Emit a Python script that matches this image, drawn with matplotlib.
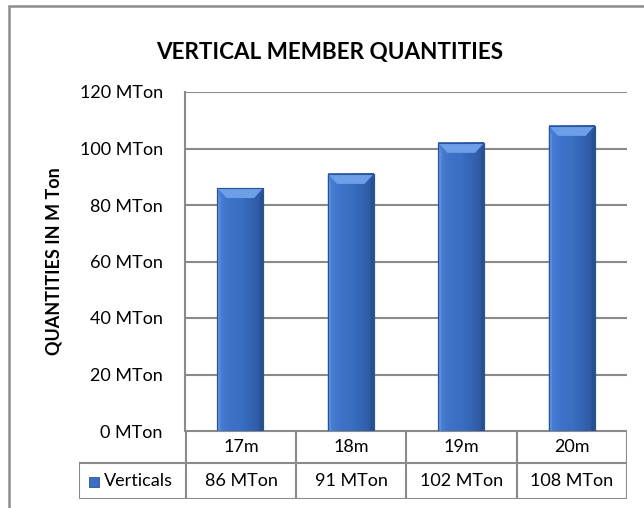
import matplotlib
matplotlib.use("Agg")
import matplotlib.pyplot as plt
import numpy as np
from matplotlib.colors import LinearSegmentedColormap
from matplotlib.patches import Polygon, Rectangle

plt.rcParams['font.family'] = ['Lato', 'DejaVu Sans']

categories = ['17m', '18m', '19m', '20m']
verticals = [86, 91, 102, 108]
value_labels = ['86 MTon', '91 MTon', '102 MTon', '108 MTon']
y_ticks = [0, 20, 40, 60, 80, 100, 120]
series_name = 'Verticals'

W, H = 644, 508
grid_col = '#8a8a8a'
body_col = '#3b6fc4'
bar_cmap = LinearSegmentedColormap.from_list(
    'bevel', ['#4a80d6', '#3d73c8', '#3a6fc2', '#3464b2', '#2b56a0'])

fig = plt.figure(figsize=(W / 100, H / 100), dpi=100)
fig.patch.set_facecolor('white')

# outer chart frame (only left and top edges visible)
fig.add_artist(Rectangle((9 / W, -0.2), 2, 1.2 - 6 / H, transform=fig.transFigure,
                         fill=False, edgecolor='#8c8c8c', linewidth=1.8))

ax = fig.add_axes([185 / W, 1 - 431 / H, (627 - 185) / W, (431 - 92) / H])
ax.set_xlim(-0.5, len(categories) - 0.5)
ax.set_ylim(0, 120)
ax.set_yticks(y_ticks)
ax.set_yticklabels([f'{v} MTon' for v in y_ticks], fontsize=13)
ax.tick_params(axis='y', length=0, pad=16)
ax.set_xticks([])
for s in ['top', 'right', 'bottom']:
    ax.spines[s].set_visible(False)
ax.spines['left'].set_color(grid_col)
ax.spines['left'].set_linewidth(1.5)
ax.yaxis.grid(True, color=grid_col, linewidth=1.5)
ax.set_axisbelow(True)
ax.set_ylabel('QUANTITIES IN M Ton', fontsize=13, fontweight='bold', labelpad=12)

bars = ax.bar(range(len(categories)), verticals, width=0.415, color=body_col,
              edgecolor='#2a5496', linewidth=0.8, zorder=3)

# bevel look on each bar
px_y = 120 / (431 - 92)
grad = np.linspace(0, 1, 64).reshape(1, -1)
for rect in bars:
    x0, w, h = rect.get_x(), rect.get_width(), rect.get_height()
    ax.imshow(grad, cmap=bar_cmap, aspect='auto', extent=(x0, x0 + w, 0, h),
              zorder=3.5, interpolation='bicubic')
    dy = 10 * px_y
    dx = w * 0.2
    sx = w * 0.07
    ax.add_patch(Polygon([(x0, 0), (x0 + sx, 0), (x0 + sx, h - dy), (x0, h)],
                         closed=True, color='#5a8ddb', zorder=4, linewidth=0))
    ax.add_patch(Polygon([(x0 + w, 0), (x0 + w - sx, 0), (x0 + w - sx, h - dy), (x0 + w, h)],
                         closed=True, color='#27508f', zorder=4, linewidth=0))
    ax.add_patch(Polygon([(x0, h), (x0 + w, h), (x0 + w - dx, h - dy), (x0 + dx, h - dy)],
                         closed=True, color='#6d9fe8', zorder=4, linewidth=0))
    ax.add_patch(Rectangle((x0, 0), w, h, fill=False, edgecolor='#2a5496',
                           linewidth=0.8, zorder=5))
ax.set_xlim(-0.5, len(categories) - 0.5)
ax.set_ylim(0, 120)

fig.text(330 / W, 1 - 53 / H, 'VERTICAL MEMBER QUANTITIES', ha='center', va='center',
         fontsize=16.2, fontweight='bold')

# data table under the plot
leg_w = 107 / 110.5
n = len(categories)
tax = fig.add_axes([79 / W, 1 - 499 / H, (627 - 79) / W, (499 - 431) / H])
tax.set_xlim(-0.5 - leg_w, n - 0.5)
tax.set_ylim(0, 1)
tax.axis('off')
mid = 36 / 68
left = -0.5 - leg_w
lkw = dict(color=grid_col, linewidth=1.5, solid_capstyle='projecting')
tax.plot([-0.5, n - 0.5], [1, 1], **lkw)
tax.plot([left, n - 0.5], [mid, mid], **lkw)
tax.plot([left, n - 0.5], [0, 0], **lkw)
tax.plot([left, left], [0, mid], **lkw)
for i in range(n + 1):
    tax.plot([i - 0.5, i - 0.5], [0, 1], **lkw)
for i, (c, v) in enumerate(zip(categories, value_labels)):
    tax.text(i, (1 + mid) / 2, c, ha='center', va='center', fontsize=13)
    tax.text(i, mid / 2, v, ha='center', va='center', fontsize=13)
tax.add_patch(Rectangle((left + leg_w * 10 / 107, 0.176), leg_w * 10 / 107, 0.148,
                        facecolor=body_col, edgecolor='#2a5496', linewidth=0.6))
tax.text(left + leg_w * 25 / 107, mid / 2, series_name, ha='left', va='center', fontsize=13)

fig.savefig('out.png', dpi=100)
